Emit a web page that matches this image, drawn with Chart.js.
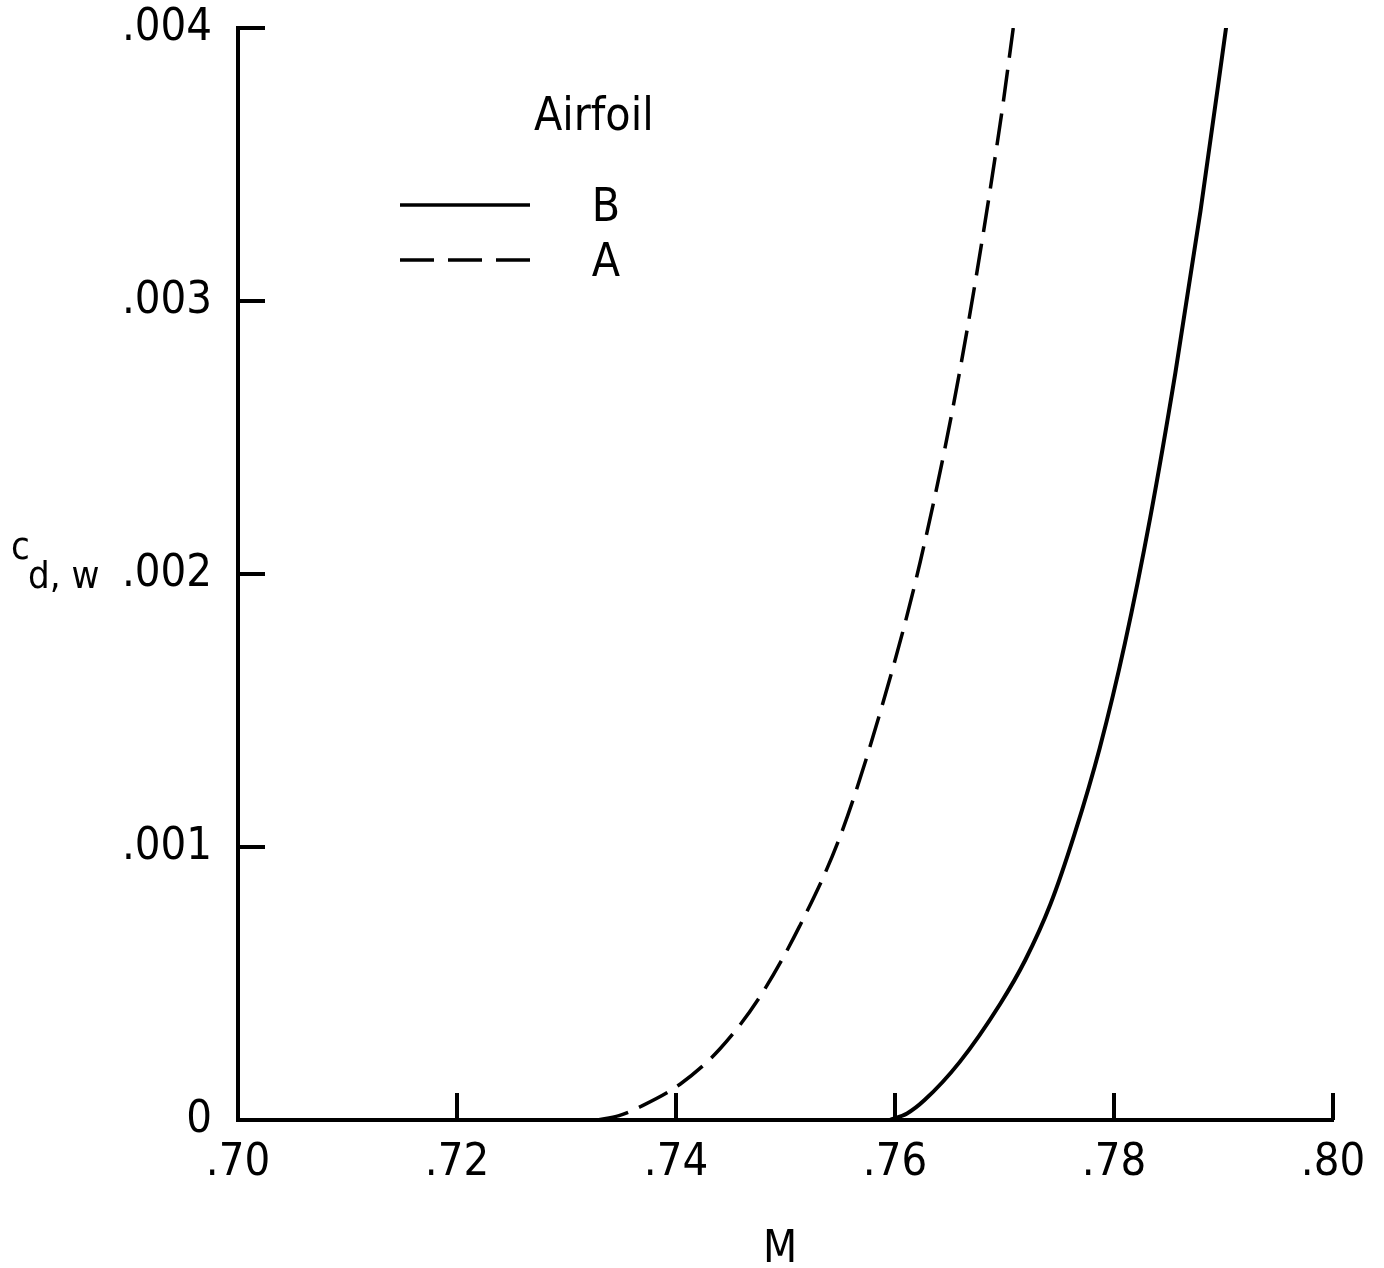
<!DOCTYPE html>
<html>
<head>
<meta charset="utf-8">
<script src="https://cdn.jsdelivr.net/npm/chart.js@4"></script>
<style>
  html, body { margin: 0; padding: 0; background: #fff; }
  canvas { display: block; }
</style>
</head>
<body>
<canvas id="drag" width="1384" height="1268"></canvas>
<script>
// values: Mach number vs wave drag coefficient
const machB = [0.7595, 0.7611, 0.7627, 0.7659, 0.7696, 0.7719, 0.7742, 0.7764, 0.7787, 0.7810, 0.7833, 0.7856, 0.7879, 0.7903];
const cdB   = [0, 0.000024, 0.000073, 0.000212, 0.000425, 0.000586, 0.000791, 0.001048, 0.001363, 0.001747, 0.002205, 0.002736, 0.00333, 0.00402];

const machA = [0.7328, 0.7348, 0.7367, 0.7404, 0.7440, 0.7477, 0.7513, 0.7550, 0.7586, 0.7623, 0.7659, 0.7696, 0.7708];
const cdA   = [0, 0.000016, 0.000048, 0.000132, 0.00026, 0.000454, 0.000711, 0.00104, 0.001487, 0.002044, 0.00274, 0.003648, 0.00400];

const xTicks = [0.70, 0.72, 0.74, 0.76, 0.78, 0.80];
const yTicks = [0, 0.001, 0.002, 0.003, 0.004];
const legendTitle = 'Airfoil';

const FONT = '"DejaVu Sans Condensed", "Liberation Sans Narrow", "DejaVu Sans", sans-serif';

function pts(xs, ys) {
  return xs.map((x, i) => ({x: x, y: ys[i]}));
}

function fmt(v, digits) {
  if (v === 0) return '0';
  return v.toFixed(digits).replace(/^0/, '');
}

// inward tick marks, axis titles and the legend block
const decor = {
  id: 'decor',
  afterDraw(chart) {
    const c = chart.ctx;
    const xs = chart.scales.x, ys = chart.scales.y;
    const area = chart.chartArea;
    c.save();
    c.strokeStyle = '#000';
    c.lineWidth = 4;
    c.lineCap = 'butt';
    xTicks.forEach(t => {
      const px = xs.getPixelForValue(t);
      c.beginPath();
      c.moveTo(px, area.bottom);
      c.lineTo(px, area.bottom - 27);
      c.stroke();
    });
    yTicks.forEach(t => {
      const py = ys.getPixelForValue(t);
      c.beginPath();
      c.moveTo(area.left, py);
      c.lineTo(area.left + 27, py);
      c.stroke();
    });

    c.fillStyle = '#000';
    c.textBaseline = 'alphabetic';
    c.textAlign = 'center';
    c.font = '44px ' + FONT;
    c.fillText('M', 780, 1262);

    c.textAlign = 'left';
    c.font = '38px ' + FONT;
    c.fillText('c', 11, 559);
    c.fillText('d, w', 28, 588);

    // legend
    c.font = '46px ' + FONT;
    c.fillText(legendTitle, 534, 130);
    const rows = [205, 260];
    chart.data.datasets.forEach((ds, i) => {
      const y = rows[i];
      c.setLineDash(ds.label === 'A' ? [34, 14] : []);
      c.lineWidth = 3.5;
      c.beginPath();
      c.moveTo(400, y);
      c.lineTo(530, y);
      c.stroke();
      c.setLineDash([]);
      c.textAlign = 'center';
      c.fillText(ds.label, 606, y + 16);
      c.textAlign = 'left';
    });
    c.restore();
  }
};

new Chart(document.getElementById('drag'), {
  type: 'line',
  data: {
    datasets: [
      {label: 'B', data: pts(machB, cdB), borderColor: '#000', borderWidth: 4,
       pointRadius: 0, cubicInterpolationMode: 'monotone', fill: false},
      {label: 'A', data: pts(machA, cdA), borderColor: '#000', borderWidth: 3.5,
       borderDash: [32, 12], pointRadius: 0, cubicInterpolationMode: 'monotone', fill: false}
    ]
  },
  options: {
    responsive: false,
    animation: false,
    layout: {padding: {left: 0, top: 28, right: 51, bottom: 0}},
    plugins: {legend: {display: false}, tooltip: {enabled: false}},
    scales: {
      x: {
        type: 'linear', min: 0.70, max: 0.80,
        afterBuildTicks: s => { s.ticks = xTicks.map(v => ({value: v})); },
        afterFit: s => { s.height = 148; s.paddingLeft = 0; s.paddingRight = 0; },
        grid: {display: false, drawTicks: false},
        border: {display: true, color: '#000', width: 4},
        ticks: {color: '#000', padding: 16, maxRotation: 0, autoSkip: false,
                font: {family: FONT, size: 45},
                callback: v => fmt(v, 2)}
      },
      y: {
        type: 'linear', min: 0, max: 0.004,
        afterBuildTicks: s => { s.ticks = yTicks.map(v => ({value: v})); },
        afterFit: s => { s.width = 238; s.paddingTop = 0; s.paddingBottom = 0; },
        grid: {display: false, drawTicks: false},
        border: {display: true, color: '#000', width: 4},
        ticks: {color: '#000', padding: 26, autoSkip: false,
                font: {family: FONT, size: 45},
                callback: v => fmt(v, 3)}
      }
    }
  },
  plugins: [decor]
});
</script>
</body>
</html>
